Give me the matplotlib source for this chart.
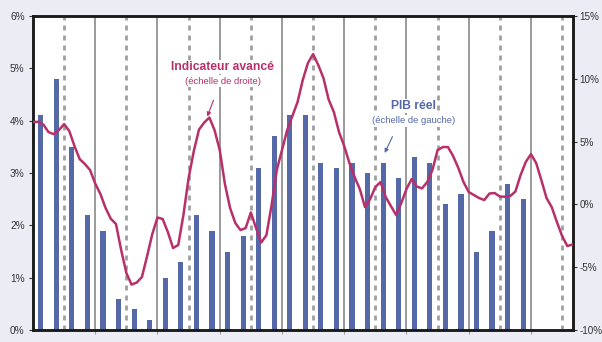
import numpy as np
import matplotlib.pyplot as plt
from matplotlib.ticker import FuncFormatter

plt.rcParams['font.family'] = ['Liberation Sans', 'DejaVu Sans']

# PIB réel, glissement annuel trimestriel (%)
pib = [4.1, 4.8, 3.5, 2.2, 1.9, 0.6, 0.4, 0.2, 1.0, 1.3, 2.2, 1.9, 1.5, 1.8,
       3.1, 3.7, 4.1, 4.1, 3.2, 3.1, 3.2, 3.0, 3.2, 2.9, 3.3, 3.2, 2.4, 2.6,
       1.5, 1.9, 2.8, 2.5]

# indicateur avancé, mensuel (%)
indic = [6.56, 6.58, 6.36, 5.76, 5.60, 5.92, 6.40, 5.84, 4.65, 3.61,
         3.22, 2.74, 1.66, 0.83, -0.29, -1.14, -1.56, -3.63, -5.46, -6.38,
         -6.22, -5.78, -4.11, -2.36, -1.04, -1.16, -2.20, -3.47, -3.23, -0.84,
         2.10, 4.25, 5.96, 6.52, 6.92, 5.92, 4.33, 1.62, -0.29, -1.48,
         -2.04, -1.88, -0.64, -1.88, -3.03, -2.44, -0.05, 2.74, 4.33, 5.92,
         7.04, 8.15, 9.90, 11.26, 11.97, 11.10, 10.06, 8.35, 7.36, 5.76,
         4.65, 3.30, 2.18, 1.23, -0.21, 0.43, 1.39, 1.78, 0.59, -0.13,
         -0.84, 0.11, 1.23, 2.02, 1.42, 1.28, 1.78, 2.74, 4.33, 4.57,
         4.57, 3.85, 2.90, 1.78, 0.99, 0.75, 0.51, 0.35, 0.87, 0.91,
         0.63, 0.61, 0.67, 1.03, 2.34, 3.38, 4.01, 3.30, 1.94, 0.51,
         -0.21, -1.40, -2.51, -3.31, -3.19]

bleu = '#5568a8'
rose = '#b8306a'
gris = '#9a9a9a'

q = np.arange(len(pib))
m = -0.5 + np.arange(len(indic)) / 3.0

fig = plt.figure(figsize=(6.02, 3.42), dpi=100, facecolor='#ececf4')
ax = fig.add_axes([0.0548, 0.035, 0.8970, 0.918])
ax.set_facecolor('white')

# années (traits pleins) et milieux d'année (pointillés)
for x in np.arange(3.5, 34, 4):
    ax.axvline(x, color=gris, lw=1.4, zorder=1)
for x in np.arange(1.5, 34, 4):
    ax.axvline(x, color='#a0a0a0', lw=2.0, ls=(0, (1.8, 1.8)), zorder=1)

ax.bar(q, pib, width=0.33, color=bleu, zorder=2)
ax.set_xlim(-0.5, 34.2)
ax.set_ylim(0, 6)
ax.set_yticks(range(0, 7))
ax.yaxis.set_major_formatter(FuncFormatter(lambda v, p: '%d%%' % v))
ax.set_xticks(np.arange(3.5, 34, 4))
ax.set_xticklabels([])
ax.tick_params(axis='x', length=3, color=gris)
ax.tick_params(axis='y', length=3, labelsize=7.3, colors='#333333', pad=3)

ax2 = ax.twinx()
ax2.plot(m, indic, color=rose, lw=1.8, zorder=3)
ax2.set_ylim(-10, 15)
ax2.set_yticks(range(-10, 16, 5))
ax2.yaxis.set_major_formatter(FuncFormatter(lambda v, p: '%d%%' % v))
ax2.tick_params(axis='y', length=3, labelsize=7.1, colors='#333333', pad=1.5)

for a in (ax, ax2):
    for s in a.spines.values():
        s.set_color('#1a1a1a')
        s.set_linewidth(1.8)

fond = dict(facecolor='white', edgecolor='none', pad=1.0)

ax2.text(11.7, 10.95, 'Indicateur avancé', color=rose, fontsize=8.7,
         fontweight='bold', ha='center', va='center', bbox=fond)
ax2.text(11.7, 9.8, '(échelle de droite)', color=rose, fontsize=6.8,
         ha='center', va='center', bbox=fond)
ax2.annotate('', xy=(10.7, 7.0), xytext=(11.1, 8.3),
             arrowprops=dict(arrowstyle='-|>', color=rose, lw=0.8,
                             mutation_scale=6, shrinkA=0, shrinkB=0))

ax2.text(23.95, 7.85, 'PIB réel', color=bleu, fontsize=8.7,
         fontweight='bold', ha='center', va='center', bbox=fond)
ax2.text(23.95, 6.65, '(échelle de gauche)', color=bleu, fontsize=6.8,
         ha='center', va='center', bbox=fond)
ax2.annotate('', xy=(22.1, 4.1), xytext=(22.6, 5.4),
             arrowprops=dict(arrowstyle='-|>', color=bleu, lw=0.8,
                             mutation_scale=6, shrinkA=0, shrinkB=0))

fig.savefig('out.png', dpi=100, facecolor=fig.get_facecolor())
